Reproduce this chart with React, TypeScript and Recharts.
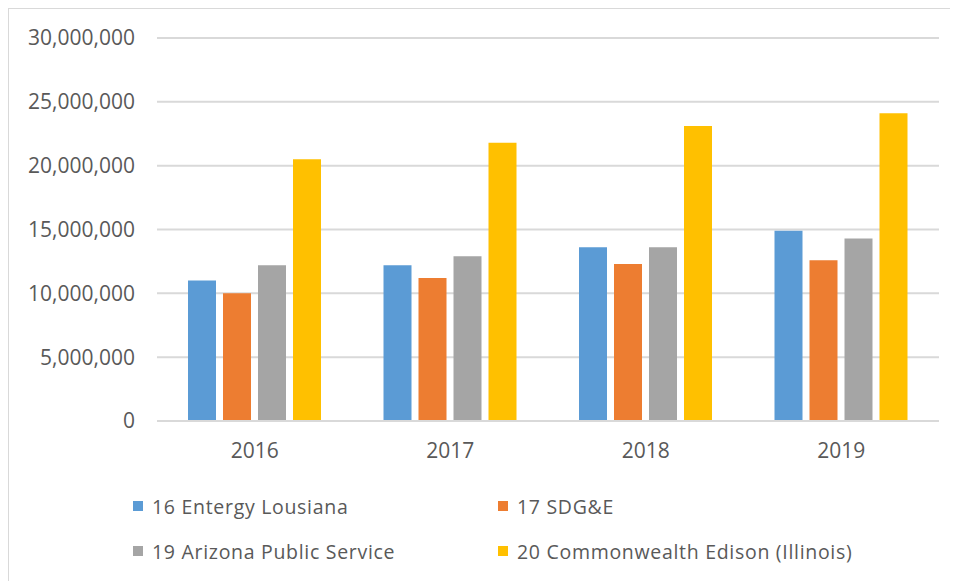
import React from 'react';
import { BarChart, Bar, XAxis, YAxis, CartesianGrid, Legend } from 'recharts';

const years = ['2016', '2017', '2018', '2019'];
const entergy = [11000000, 12200000, 13600000, 14900000];
const sdge = [10000000, 11200000, 12300000, 12600000];
const arizona = [12200000, 12900000, 13600000, 14300000];
const comed = [20500000, 21800000, 23100000, 24100000];
const yTicks = [0, 5000000, 10000000, 15000000, 20000000, 25000000, 30000000];

const seriesNames = ['16 Entergy Lousiana', '17 SDG&E', '19 Arizona Public Service', '20 Commonwealth Edison (Illinois)'];
const seriesColors = ['#5B9BD5', '#ED7D31', '#A5A5A5', '#FFC000'];
const seriesKeys = ['entergy', 'sdge', 'arizona', 'comed'];

const data = years.map((y, i) => ({
  year: y,
  entergy: entergy[i],
  sdge: sdge[i],
  arizona: arizona[i],
  comed: comed[i],
}));

const FONT = '"Open Sans", sans-serif';

const LegendContent = (props: any) => {
  const payload = props.payload || [];
  const pos = [
    { left: 124, top: 0 },
    { left: 489, top: 0 },
    { left: 124, top: 45 },
    { left: 489, top: 45 },
  ];
  return (
    <div style={{ position: 'relative', width: '100%', height: '100%' }}>
      {payload.map((p: any, i: number) => (
        <div
          key={i}
          style={{
            position: 'absolute',
            left: pos[i].left,
            top: pos[i].top,
            height: 34,
            display: 'flex',
            alignItems: 'center',
            fontFamily: FONT,
            fontSize: 19.5,
            letterSpacing: 0.7,
            color: '#595959',
            whiteSpace: 'nowrap',
          }}
        >
          <span style={{ display: 'inline-block', width: 10, height: 10, background: p.color, marginRight: 9 }} />
          <span>{p.value}</span>
        </div>
      ))}
    </div>
  );
};

export default function App() {
  return (
    <div
      style={{
        width: 949,
        height: 572,
        borderLeft: '1.5px solid #d9d9d9',
        borderTop: '1.5px solid #d9d9d9',
        background: '#fff',
      }}
    >
      <BarChart
        width={949}
        height={572}
        data={data}
        margin={{ top: 29, right: 19, bottom: 120, left: 0 }}
        barGap={7}
        barCategoryGap={31}
      >
        <CartesianGrid vertical={false} stroke="#d9d9d9" strokeWidth={2} />
        <XAxis
          dataKey="year"
          axisLine={{ stroke: '#d9d9d9', strokeWidth: 2 }}
          tickLine={false}
          tickSize={0}
          tickMargin={22}
          height={40}
          tick={{ fill: '#595959', fontSize: 21, fontFamily: FONT }}
        />
        <YAxis
          width={148}
          domain={[0, 30000000]}
          ticks={yTicks}
          interval={0}
          axisLine={false}
          tickLine={false}
          tickSize={0}
          tickMargin={22}
          tickFormatter={(v: number) => v.toLocaleString('en-US')}
          tick={{ fill: '#595959', fontSize: 21, fontFamily: FONT }}
        />
        <Legend
          layout="horizontal"
          verticalAlign="middle"
          align="center"
          content={<LegendContent />}
          wrapperStyle={{ top: 480, left: 0, width: 949, height: 90 }}
        />
        {seriesKeys.map((k, i) => (
          <Bar key={k} dataKey={k} name={seriesNames[i]} fill={seriesColors[i]} isAnimationActive={false} />
        ))}
      </BarChart>
    </div>
  );
}
